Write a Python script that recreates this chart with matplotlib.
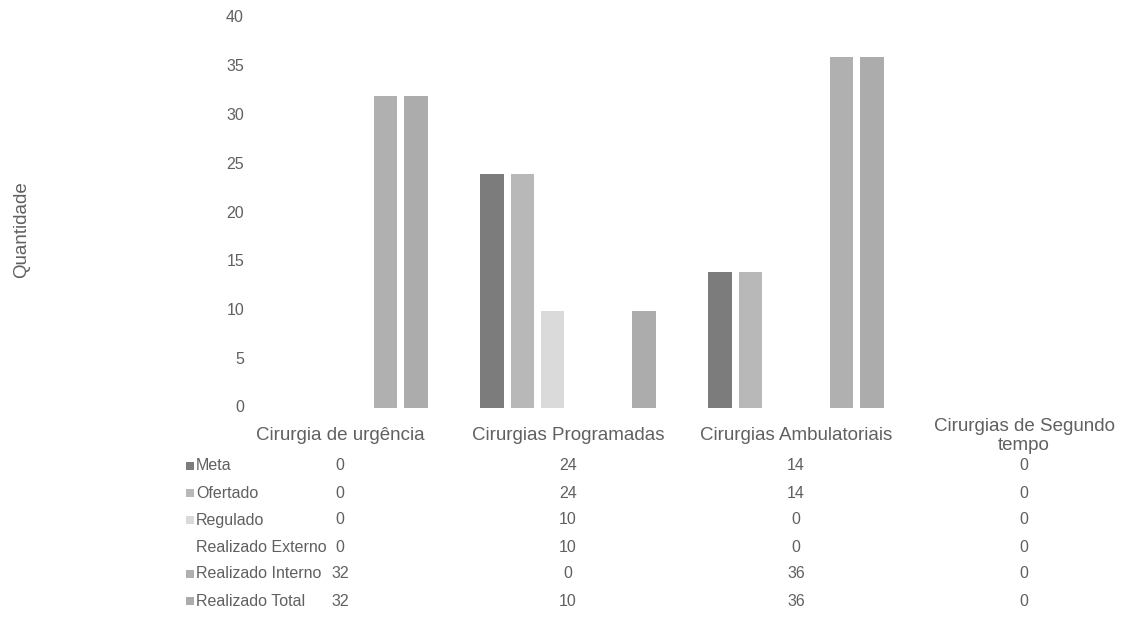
import numpy as np
import matplotlib
matplotlib.use("Agg")
import matplotlib.pyplot as plt

plt.rcParams["font.family"] = ["Liberation Sans", "DejaVu Sans"]

categories = ["Cirurgia de urgência", "Cirurgias Programadas",
              "Cirurgias Ambulatoriais", "Cirurgias de Segundo\ntempo"]
series_names = ["Meta", "Ofertado", "Regulado", "Realizado Externo",
                "Realizado Interno", "Realizado Total"]
meta = [0, 24, 14, 0]
ofertado = [0, 24, 14, 0]
regulado = [0, 10, 0, 0]
realizado_externo = [0, 10, 0, 0]
realizado_interno = [32, 0, 36, 0]
realizado_total = [32, 10, 36, 0]
series_values = [meta, ofertado, regulado, realizado_externo,
                 realizado_interno, realizado_total]
colors = ["#7c7c7c", "#b8b8b8", "#dadada", "#ffffff", "#b0b0b0", "#acacac"]
yticks = [0, 5, 10, 15, 20, 25, 30, 35, 40]

text_color = "#606060"
W, H = 1129, 638
fig = plt.figure(figsize=(W / 100, H / 100), dpi=100)
ax = fig.add_axes([226 / W, (H - 408) / H, 912 / W, 390 / H])

n = len(series_names)
slot = 0.8 / n
x = np.arange(len(categories))
for i, (vals, c) in enumerate(zip(series_values, colors)):
    ax.bar(x + (i - (n - 1) / 2) * slot, vals, width=slot * 0.76, color=c,
           edgecolor="none")

ax.set_xlim(-0.5, len(categories) - 0.5)
ax.set_ylim(0, 40)
ax.set_yticks(yticks)
ax.set_yticklabels([])
ax.tick_params(axis="y", length=0)
ax.set_xticks([])
for s in ax.spines.values():
    s.set_visible(False)

# value axis labels (sit slightly inside the plot area, as in the source)
for t in yticks:
    yf = ax.transData.transform((0, t))[1] / H
    fig.text(244 / W, yf, str(t), ha="right", va="center", fontsize=11.5,
             color=text_color)
fig.text(22 / W, 1 - 230 / H, "Quantidade", rotation=90, ha="center",
         va="center", fontsize=13.5, color=text_color)

# category labels
for xi, cat in zip(x, categories):
    xf = ax.transData.transform((xi, 0))[0] / W
    yc = 1 - 436 / H
    fig.text(xf, yc, cat, ha="center", va="center", fontsize=13.5,
             color=text_color, linespacing=1.2)

# data table
row_y = [466, 493, 520, 547, 574, 601]
for yy_px, name, vals, c in zip(row_y, series_names, series_values, colors):
    yy = 1 - yy_px / H
    fig.text(196 / W, yy, name, ha="left", va="center", fontsize=11.5,
             color=text_color)
    if c != "#ffffff":
        fig.patches.append(plt.Rectangle((186 / W, yy - 4 / H), 8 / W, 8 / H,
                                         transform=fig.transFigure,
                                         color=c, ec="none"))
    for xi, v in zip(x, vals):
        xf = ax.transData.transform((xi, 0))[0] / W
        fig.text(xf, yy, str(v), ha="center", va="center", fontsize=11.5,
                 color=text_color)

fig.savefig("out.png", dpi=100)
